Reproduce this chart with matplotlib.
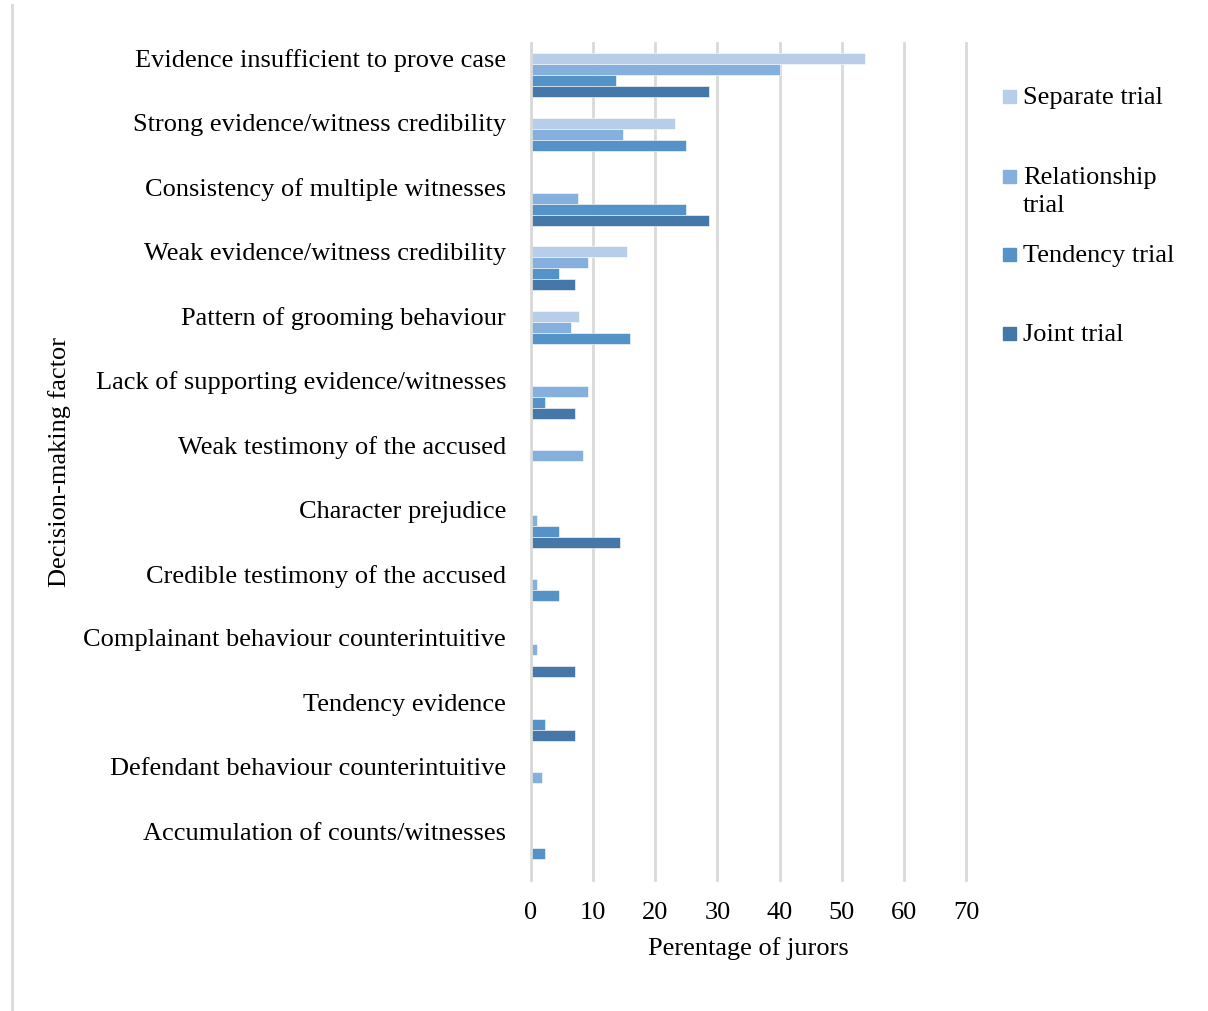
import matplotlib.pyplot as plt
import numpy as np
from matplotlib.lines import Line2D
from matplotlib.patches import Rectangle

# Kategorien (von oben nach unten)
factors = [
    "Evidence insufficient to prove case",
    "Strong evidence/witness credibility",
    "Consistency of multiple witnesses",
    "Weak evidence/witness credibility",
    "Pattern of grooming behaviour",
    "Lack of supporting evidence/witnesses",
    "Weak testimony of the accused",
    "Character prejudice",
    "Credible testimony of the accused",
    "Complainant behaviour counterintuitive",
    "Tendency evidence",
    "Defendant behaviour counterintuitive",
    "Accumulation of counts/witnesses",
]

# Prozentwerte je Verfahrensart
separate = [53.8, 23.1, 0, 15.4, 7.7, 0, 0, 0, 0, 0, 0, 0, 0]
relationship = [40.0, 14.8, 7.5, 9.2, 6.5, 9.2, 8.3, 0.9, 0.9, 0.9, 0, 1.8, 0]
tendency = [13.6, 25.0, 25.0, 4.5, 15.9, 2.3, 0, 4.5, 4.5, 0, 2.3, 0, 2.3]
joint = [28.6, 0, 28.6, 7.1, 0, 7.1, 0, 14.3, 0, 7.1, 7.1, 0, 0]

series_names = ["Separate trial", "Relationship\ntrial", "Tendency trial", "Joint trial"]
colors = ["#B7CDE8", "#85AFDD", "#5592C8", "#4577A8"]

plt.rcParams['font.family'] = ['Liberation Serif', 'DejaVu Serif']
fs = 19

fig = plt.figure(figsize=(12.08, 10.11), dpi=100)
ax = fig.add_axes([531 / 1208, 1 - 880 / 1011, 435 / 1208, 837 / 1011])

y = np.arange(len(factors))
h = 0.171
for k, (vals, col) in enumerate(zip([separate, relationship, tendency, joint], colors)):
    ax.barh(y + (k - 1.5) * h, vals, height=h, color=col, edgecolor='white',
            linewidth=0.4, zorder=3)

ax.set_xlim(0, 70)
ax.set_ylim(len(factors) - 0.5, -0.5)
ax.set_xticks(range(0, 71, 10))
ax.set_yticks(y - 0.26)
ax.set_yticklabels(factors, fontsize=fs)
ax.tick_params(axis='y', length=0, pad=18)
ax.tick_params(axis='x', length=0, pad=16, labelsize=fs)

ax.grid(axis='x', color='#D9D9D9', linewidth=2, zorder=0)
for gl in ax.get_xgridlines():
    gl.set_clip_on(False)
for s in ['top', 'right', 'bottom', 'left']:
    ax.spines[s].set_visible(False)
ax.axvline(0, color='#D9D9D9', linewidth=2, zorder=4)

ax.set_xlabel("Perentage of jurors", fontsize=fs, labelpad=9)
fig.text(60 / 1208, 1 - 462 / 1011, "Decision-making factor", fontsize=fs,
         rotation=90, ha='center', va='center')

# Legende manuell
leg_y = [98, 192, 256, 335]
for name, col, ly in zip(series_names, colors, leg_y):
    my = ly - 2 if "\n" not in name else 176
    fig.patches.append(Rectangle((1003 / 1208, 1 - (my + 7) / 1011), 13 / 1208, 13 / 1011,
                                 transform=fig.transFigure, color=col))
    fig.text(1023 / 1208, 1 - ly / 1011, name, fontsize=fs, va='center',
             ha='left', linespacing=1.38)

# Seitenrand links
fig.add_artist(Line2D([12 / 1208, 12 / 1208], [0, 1 - 5 / 1011], transform=fig.transFigure,
                      color='#D9D9D9', linewidth=2))

fig.savefig("out.png", dpi=100)
